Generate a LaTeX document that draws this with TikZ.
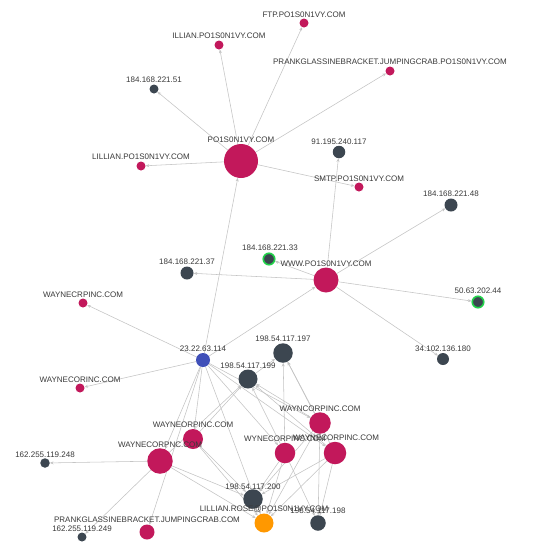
\documentclass[tikz,border=0pt]{standalone}
\usepackage{fontspec}
\setmainfont{Liberation Sans}
\usetikzlibrary{arrows.meta,backgrounds}
\definecolor{domc}{HTML}{C2185B}
\definecolor{ipc}{HTML}{3C4650}
\definecolor{bluec}{HTML}{3F4FB8}
\definecolor{orangec}{HTML}{FF9800}
\definecolor{ringc}{HTML}{22D34A}
\definecolor{edgec}{HTML}{C4C4C4}
\definecolor{lblc}{HTML}{3A3A3A}
\tikzset{
  vtx/.style={circle, inner sep=0pt, minimum size=#1, draw=none},
  dom/.style={vtx=#1, fill=domc},
  ipn/.style={vtx=#1, fill=ipc},
  ringn/.style={circle, inner sep=0pt, minimum size=#1, fill=ipc, draw=ringc, line width=1.6pt},
  lbl/.style={font=\fontsize{8}{9}\selectfont, text=lblc, inner sep=0pt, anchor=base},
  edge/.style={draw=edgec, line width=0.55pt, -{Stealth[length=3.5pt,width=3pt]}},
}
\begin{document}
\begin{tikzpicture}[x=1pt,y=-1pt]
\useasboundingbox (0,0) rectangle (540,547);

% nodes
\node[dom=9pt] (ftp) at (304,23) {};
\node[dom=9pt] (ill) at (219,45) {};
\node[dom=9pt] (prk1) at (390,71) {};
\node[ipn=9pt] (i51) at (154,89) {};
\node[dom=34pt] (po) at (241,161) {};
\node[dom=9pt] (lil) at (141,166) {};
\node[ipn=12.5pt] (i91) at (339,152) {};
\node[dom=9pt] (smtp) at (359,187) {};
\node[ipn=13pt] (i48) at (451,205) {};
\node[ringn=11.5pt] (i33) at (269,259) {};
\node[ipn=13pt] (i37) at (187,273) {};
\node[dom=25pt] (www) at (326,280) {};
\node[ringn=11.5pt] (i50) at (478,302) {};
\node[ipn=12pt] (i34) at (443,359) {};
\node[dom=9pt] (wcrp) at (83,303) {};
\node[dom=9pt] (wcor) at (80,388) {};
\node[vtx=14pt, fill=bluec] (a) at (203,360) {};
\node[ipn=19.5pt] (b) at (283,353) {};
\node[ipn=19pt] (c) at (248,379) {};
\node[dom=21.5pt] (w1) at (320,423) {};
\node[dom=20pt] (w2) at (193,439) {};
\node[dom=25.5pt] (w3) at (160,461) {};
\node[dom=20.5pt] (w4) at (285,453) {};
\node[dom=22.5pt] (w5) at (335,453) {};
\node[ipn=19.5pt] (d) at (253,499) {};
\node[vtx=19pt, fill=orangec] (l) at (264,523) {};
\node[ipn=15.5pt] (e) at (318,523) {};
\node[dom=15pt] (p) at (147,532) {};
\node[ipn=9.5pt] (f) at (45,463) {};
\node[ipn=9pt] (g) at (82,537) {};

\begin{scope}[on background layer]
\fill[white] (0,0) rectangle (540,547);
\path[edge] (po) -- (ftp);
\path[edge] (po) -- (ill);
\path[edge] (po) -- (prk1);
\path[edge] (po) -- (i51);
\path[edge] (po) -- (lil);
\path[edge] (po) -- (smtp);
\path[edge] (a) -- (po);
\path[edge] (www) -- (i91);
\path[edge] (www) -- (i48);
\path[edge] (www) -- (i33);
\path[edge] (www) -- (i37);
\path[edge] (www) -- (i50);
\path[edge] (www) -- (i34);
\path[edge] (a) -- (www);
\path[edge] (a) -- (wcrp);
\path[edge] (a) -- (wcor);
\path[edge] (w3) -- (f);
\path[edge] (w3) -- (g);
\path[edge] (a) -- (w2);
\path[edge] (a) -- (w3);
\path[edge] (a) -- (p);
\path[edge] (a) -- (w4);
\path[edge] (a) -- (w1);
\path[edge] (a) -- (w5);
\path[edge] (a) -- (l);
\path[edge] (c) -- (b);
\path[edge] (w1) -- (b);
\path[edge] (w1) -- (c);
\path[edge] (w1) -- (d);
\path[edge] (w1) -- (e);
\path[edge] (w1) -- (l);
\path[edge] (w2) -- (c);
\path[edge] (w2) -- (d);
\path[edge] (w3) -- (c);
\path[edge] (w3) -- (d);
\path[edge] (w3) -- (l);
\path[edge] (w4) -- (b);
\path[edge] (w4) -- (c);
\path[edge] (w4) -- (d);
\path[edge] (w4) -- (l);
\path[edge] (w5) -- (b);
\path[edge] (w5) -- (c);
\path[edge] (w5) -- (d);
\path[edge] (w5) -- (e);
\path[edge] (w5) -- (l);
\path[edge] (w4) -- (e);
\path[edge] (w2) -- (l);
\end{scope}

% labels
\node[lbl] (t-ftp) at (304,17) {FTP.PO1S0N1VY.COM};
\node[lbl] (t-ill) at (219,38.5) {ILLIAN.PO1S0N1VY.COM};
\node[lbl] (t-prk1) at (390,64.5) {PRANKGLASSINEBRACKET.JUMPINGCRAB.PO1S0N1VY.COM};
\node[lbl] (t-i51) at (154,82.5) {184.168.221.51};
\node[lbl] (t-po) at (241,142) {PO1S0N1VY.COM};
\node[lbl] (t-lil) at (141,159.5) {LILLIAN.PO1S0N1VY.COM};
\node[lbl] (t-i91) at (339,144) {91.195.240.117};
\node[lbl] (t-smtp) at (359,181) {SMTP.PO1S0N1VY.COM};
\node[lbl] (t-i48) at (451,196.5) {184.168.221.48};
\node[lbl] (t-i33) at (270,250) {184.168.221.33};
\node[lbl] (t-i37) at (187,264.5) {184.168.221.37};
\node[lbl] (t-www) at (326,266) {WWW.PO1S0N1VY.COM};
\node[lbl] (t-i50) at (478,293) {50.63.202.44};
\node[lbl] (t-i34) at (443,351) {34.102.136.180};
\node[lbl] (t-wcrp) at (83,297) {WAYNECRPINC.COM};
\node[lbl] (t-wcor) at (80,382) {WAYNECORINC.COM};
\node[lbl] (t-a) at (203,351) {23.22.63.114};
\node[lbl] (t-b) at (283,341.5) {198.54.117.197};
\node[lbl] (t-c) at (248,368) {198.54.117.199};
\node[lbl] (t-w1) at (320,411) {WAYNCORPINC.COM};
\node[lbl] (t-w2) at (193,427) {WAYNEORPINC.COM};
\node[lbl] (t-w3) at (160,447) {WAYNECORPNC.COM};
\node[lbl] (t-w4) at (285,441) {WYNECORPINC.COM};
\node[lbl] (t-w5) at (336,440) {WAYNECORPINC.COM};
\node[lbl] (t-d) at (253,489) {198.54.117.200};
\node[lbl] (t-l) at (264,511) {LILLIAN.ROSE@PO1S0N1VY.COM};
\node[lbl] (t-e) at (318,513) {198.54.117.198};
\node[lbl] (t-p) at (147,522.5) {PRANKGLASSINEBRACKET.JUMPINGCRAB.COM};
\node[lbl] (t-g) at (82,531) {162.255.119.249};
\node[lbl] (t-f) at (45,457) {162.255.119.248};
\end{tikzpicture}
\end{document}
